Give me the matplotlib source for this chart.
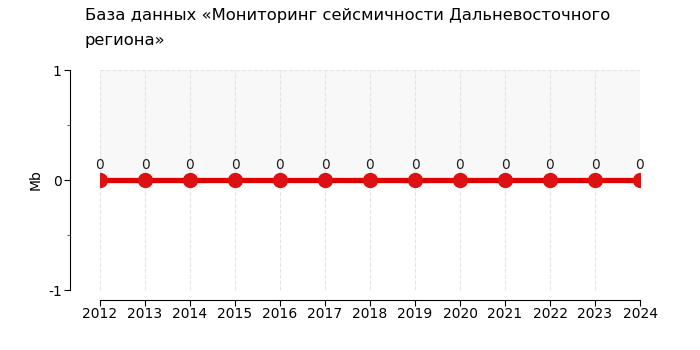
import numpy as np
import matplotlib.pyplot as plt

# Данные
years = np.arange(2012, 2025)
values = np.array([0, 0, 0, 0, 0, 0, 0, 0, 0, 0, 0, 0, 0])
title = "База данных «Мониторинг сейсмичности Дальневосточного\nрегиона»"

plt.rcParams['axes.unicode_minus'] = False

fig = plt.figure(figsize=(7, 3.5), dpi=100)
ax = fig.add_axes([100 / 700, 60 / 350, 540 / 700, 220 / 350])

ax.set_xlim(years[0], years[-1])
ax.set_ylim(-1, 1)

# серая полоса в верхней половине
ax.axhspan(0, 1, color='#f8f8f8', zorder=0)

ax.plot(years, values, '-', color='#e00000', lw=3.8, zorder=3)
ax.plot(years, values, 'o', color='#dd1111', ms=10, zorder=4)
for x, v in zip(years, values):
    ax.annotate(str(v), (x, v), xytext=(0, 6), textcoords='offset points',
                ha='center', va='bottom', fontsize=10, color='#222222')

ax.set_xticks(years)
ax.set_yticks([-1, 0, 1])
ax.set_yticks([-0.5, 0.5], minor=True)
ax.tick_params(axis='both', labelsize=10, color='black', length=4, pad=2)
ax.tick_params(axis='x', pad=1)
ax.tick_params(axis='y', which='minor', length=2, color='#cc0000')

ax.grid(True, axis='x', ls='--', color='#e4e4e4', lw=0.8)
for yy in (-1, 1):
    ax.axhline(yy, ls='--', color='#e4e4e4', lw=0.8, zorder=1)

for s in ('top', 'right'):
    ax.spines[s].set_visible(False)
ax.spines['left'].set_position(('outward', 21.6))
ax.spines['bottom'].set_position(('outward', 7.2))

ax.set_ylabel('Mb', fontsize=10, labelpad=4)
fig.text(85 / 700, 1 - 8 / 350, title, ha='left', va='top', fontsize=11.8,
         linespacing=1.85)

fig.savefig('out.png', dpi=100)
